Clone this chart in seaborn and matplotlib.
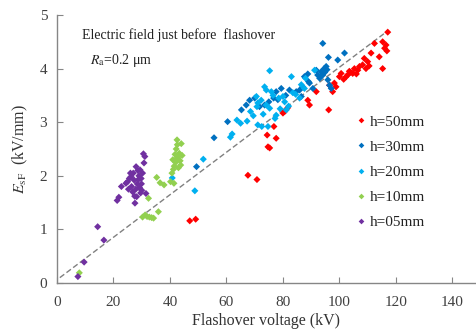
import matplotlib
matplotlib.use("Agg")
import matplotlib.pyplot as plt
import seaborn as sns
import pandas as pd

# ---- data ----
h50_x = [47.0, 49.1, 67.6, 70.8, 74.4, 74.7, 75.3, 76.8, 77.6, 80.0, 80.6, 81.7, 88.8, 89.4, 91.8,
         96.2, 96.5, 97.6, 98.2, 98.8, 100.0, 100.6, 102.4, 102.9, 104.0, 104.7, 105.3, 106.5, 107.1,
         108.2, 108.8, 109.4, 110.0, 111.2, 112.4, 114.1, 115.3, 115.3, 116.0, 116.5, 117.1, 116.8,
         101.5, 103.5, 106.0, 110.5]
h50_y = [1.16, 1.19, 2.01, 1.93, 2.76, 2.54, 2.52, 2.92, 2.70, 3.17, 3.20, 3.27, 3.41, 3.32, 3.57,
         3.23, 3.69, 3.57, 3.73, 3.66, 3.85, 3.91, 3.85, 3.88, 3.93, 3.91, 4.00, 3.97, 4.04,
         4.07, 4.19, 4.00, 4.13, 4.29, 4.47, 4.22, 4.00, 4.50, 4.38, 4.44, 4.68, 4.33,
         3.80, 3.95, 3.90, 4.05]

h30_x = [49.4, 55.6, 60.4, 65.3, 67.0, 68.2, 70.0, 71.7, 73.5, 76.7, 77.6, 78.2, 79.4, 82.3, 84.7,
         86.5, 87.0, 85.9, 87.6, 88.8, 89.4, 90.6, 91.8, 92.3, 93.5, 94.1, 94.6, 95.3, 95.9, 96.5,
         97.1, 93.0, 94.8, 95.6, 99.4, 101.8, 94.1, 96.1, 89.0, 81.0, 75.0]
h30_y = [2.17, 2.71, 3.01, 3.23, 3.32, 3.41, 3.45, 3.29, 3.32, 3.45, 3.57, 3.42, 3.63, 3.60, 3.57,
         3.48, 3.66, 3.60, 3.85, 3.90, 3.73, 3.63, 3.97, 3.88, 3.94, 3.88, 4.00, 4.04, 3.79, 3.69,
         3.63, 3.82, 3.93, 3.98, 4.16, 4.29, 4.47, 4.21, 3.76, 3.50, 3.38]

h20_x = [40.8, 48.8, 51.8, 61.4, 62.0, 63.7, 67.3, 71.1, 72.5, 74.7, 70.6, 71.1, 73.5, 74.1, 75.9,
         72.3, 74.1, 75.3, 77.6, 77.2, 80.0, 80.6, 82.0, 78.5, 83.5, 85.9, 87.6, 75.3, 83.0, 70.8,
         68.5, 76.5, 79.0, 81.2, 84.5, 86.5, 88.0, 91.2, 73.0, 69.5, 65.0]
h20_y = [1.96, 1.72, 2.31, 2.72, 2.78, 3.04, 3.02, 2.95, 2.92, 2.92, 3.48, 3.36, 3.66, 3.60, 3.57,
         3.41, 3.32, 3.26, 3.13, 3.07, 3.48, 3.38, 3.30, 3.45, 3.55, 3.45, 3.63, 3.96, 3.85, 3.29,
         3.20, 3.50, 3.25, 3.23, 3.52, 3.70, 3.82, 3.97, 3.15, 3.12, 2.98]

h10_x = [7.9, 30.3, 31.2, 31.9, 32.7, 33.5, 34.2, 35.9, 32.4, 35.3, 36.5, 37.9, 40.2, 41.4, 40.7,
         41.0, 41.5, 41.8, 42.0, 42.2, 42.5, 42.8, 43.0, 43.3, 43.6, 44.0, 44.3, 41.2, 42.6, 43.8, 42.3]
h10_y = [0.19, 1.23, 1.27, 1.24, 1.23, 1.22, 1.21, 1.33, 1.58, 1.97, 1.87, 1.83, 1.89, 1.86, 2.05,
         2.30, 2.18, 2.40, 2.25, 2.50, 2.67, 2.35, 2.15, 2.42, 2.28, 2.60, 2.38, 2.12, 2.58, 2.20, 2.32]

h05_x = [7.4, 9.6, 14.4, 16.6, 21.3, 21.9, 22.8, 24.4, 25.0, 25.6, 26.0, 26.4, 26.8, 27.0, 27.3,
         27.6, 27.9, 28.2, 28.4, 28.8, 29.0, 29.2, 29.4, 29.6, 29.8, 30.0, 30.3, 30.8, 31.1, 31.5,
         26.2, 27.5, 28.6, 29.9, 30.6, 25.3, 28.0]
h05_y = [0.12, 0.39, 1.05, 0.80, 1.54, 1.60, 1.80, 1.86, 1.89, 1.95, 2.05, 1.80, 1.70, 2.05, 1.92,
         1.49, 1.75, 1.61, 1.85, 1.93, 2.00, 1.78, 2.11, 1.68, 1.95, 1.73, 2.05, 2.24, 2.36, 1.67,
         1.98, 1.62, 2.10, 1.85, 2.41, 1.75, 2.17]

series_labels = ["h=50mm", "h=30mm", "h=20mm", "h=10mm", "h=05mm"]
series_colors = ["#FF0000", "#0070C0", "#00B0F0", "#92D050", "#7030A0"]

ref_line_x = [1, 117]
ref_line_y = [0.10, 4.70]

x_ticks = [0, 20, 40, 60, 80, 100, 120, 140]
y_ticks = [0, 1, 2, 3, 4, 5]

# ---- build table ----
xs = [h50_x, h30_x, h20_x, h10_x, h05_x]
ys = [h50_y, h30_y, h20_y, h10_y, h05_y]
frames = []
for lab, x, y in zip(series_labels, xs, ys):
    frames.append(pd.DataFrame({"V": x, "E": y, "h": lab}))
df = pd.concat(frames, ignore_index=True)

sns.set_theme(style="white")
plt.rcParams['font.family'] = ['Liberation Serif', 'DejaVu Serif']
plt.rcParams['mathtext.fontset'] = 'stix'

fig = plt.figure(figsize=(4.77, 3.29), dpi=100)
ax = fig.add_axes([57/477, 46/329, 418/477, 268/329])

ax.plot(ref_line_x, ref_line_y, color="#808080", lw=1.0, ls=(0, (4, 2)), zorder=1)

sns.scatterplot(data=df, x="V", y="E", hue="h", hue_order=series_labels,
                palette=dict(zip(series_labels, series_colors)), marker="D", s=13,
                edgecolor="none", linewidth=0, ax=ax, zorder=2)

ax.set_xlim(0, 148)
ax.set_ylim(0, 5)
ax.set_xticks(x_ticks)
ax.set_yticks(y_ticks)
for s in ["top", "right"]:
    ax.spines[s].set_visible(False)
for s in ["left", "bottom"]:
    ax.spines[s].set_color("#868686")
    ax.spines[s].set_linewidth(1.0)
ax.tick_params(direction="in", length=4, width=0.8, color="#868686",
               labelsize=11, labelcolor="#404040", left=True, bottom=True)
ax.tick_params(axis="x", pad=9)
ax.tick_params(axis="y", pad=7)

ax.set_xlabel("Flashover voltage (kV)", fontsize=11.5, color="#333333", labelpad=3)
ax.set_ylabel(r"$E_{\mathrm{sF}}$  (kV/mm)", fontsize=11.5, color="#333333", labelpad=7)

ax.text(0.06, 0.925, "Electric field just before  flashover", transform=ax.transAxes,
        fontsize=10, color="#222222", va="center", ha="left")
ax.text(0.08, 0.83, r"$R_{\mathrm{a}}$=0.2 μm", transform=ax.transAxes,
        fontsize=10, color="#222222", va="center", ha="left")

leg = ax.legend(loc="upper left", bbox_to_anchor=(0.69, 0.65), frameon=False,
                fontsize=11, markerscale=0.8, handletextpad=0.0, labelspacing=0.75,
                handlelength=1.2, borderaxespad=0)
for t in leg.get_texts():
    t.set_color("#222222")

fig.savefig("out.png", dpi=100)
